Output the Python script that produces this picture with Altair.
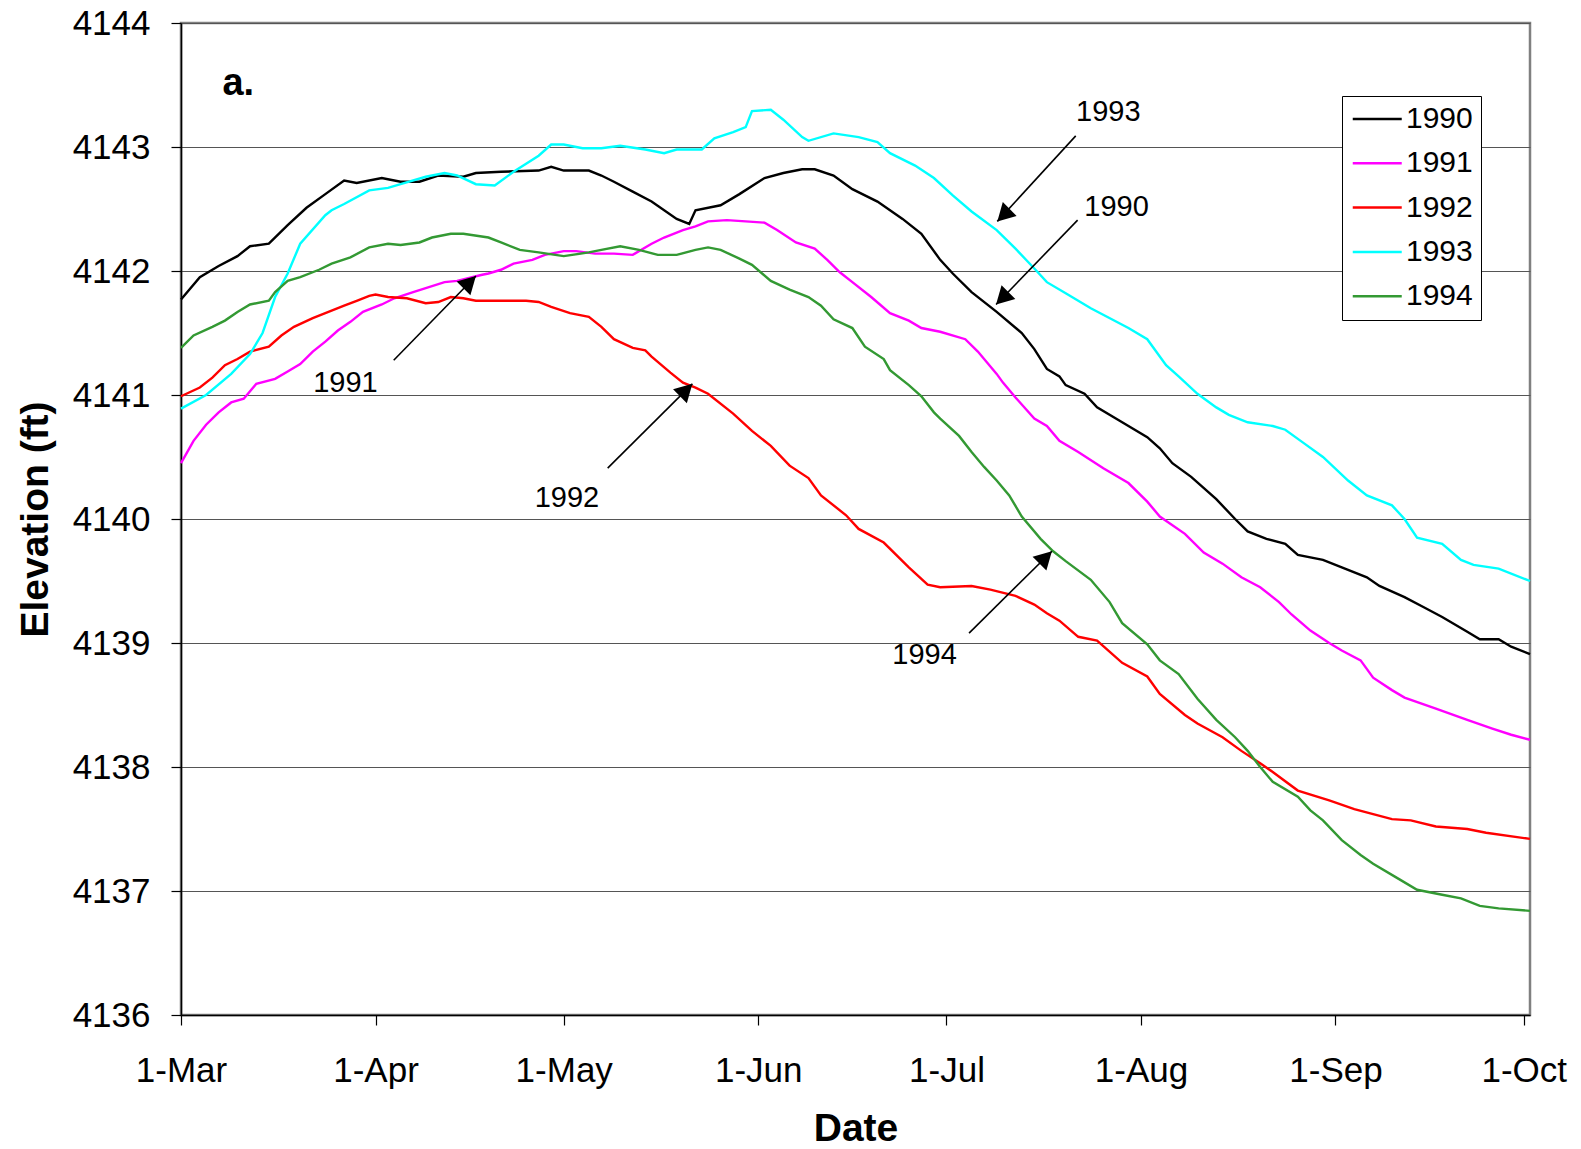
import datetime as dt
import pandas as pd
import altair as alt

# ---------------- data ----------------
years = ["1990", "1991", "1992", "1993", "1994"]
colors = ["#000000", "#FF00FF", "#FF0000", "#00FFFF", "#339933"]

# day offsets counted from 1-Mar
days_1990 = [0, 3, 6, 9, 11, 14, 17, 20, 23, 26, 28, 32, 35, 38, 41, 45, 47, 51, 57, 59,
             61, 65, 67, 69, 72, 75, 79, 81, 82, 86, 89, 93, 96, 99, 101, 104, 107, 111, 115, 118,
             121, 123, 126, 130, 134, 136, 138, 140, 141, 144, 146, 150, 154, 156, 158, 161, 165, 168, 170, 173,
             176, 178, 182, 185, 189, 191, 195, 198, 201, 205, 207, 210, 212, 215]
elev_1990 = [4141.77, 4141.95, 4142.04, 4142.12, 4142.20, 4142.22, 4142.37, 4142.51, 4142.62, 4142.73,
             4142.71, 4142.75, 4142.72, 4142.72, 4142.77, 4142.76, 4142.79, 4142.80, 4142.81, 4142.84,
             4142.81, 4142.81, 4142.77, 4142.72, 4142.64, 4142.56, 4142.42, 4142.38, 4142.49, 4142.53,
             4142.62, 4142.75, 4142.79, 4142.82, 4142.82, 4142.77, 4142.66, 4142.56, 4142.42, 4142.30,
             4142.09, 4141.98, 4141.83, 4141.67, 4141.50, 4141.37, 4141.21, 4141.15, 4141.08, 4141.01,
             4140.90, 4140.78, 4140.66, 4140.57, 4140.45, 4140.34, 4140.16, 4140.00, 4139.90, 4139.84,
             4139.80, 4139.71, 4139.67, 4139.61, 4139.53, 4139.46, 4139.37, 4139.29, 4139.21, 4139.09,
             4139.03, 4139.03, 4138.97, 4138.91]

days_1991 = [0, 2, 4, 6, 8, 10, 12, 15, 17, 19, 21, 23, 25, 27, 29, 32, 34, 37, 42, 44,
             48, 49, 51, 53, 56, 58, 61, 63, 66, 69, 72, 75, 77, 80, 82, 84, 87, 90, 93, 95,
             98, 101, 103, 105, 107, 110, 113, 116, 118, 121, 125, 127, 130, 131, 133, 136, 138, 140, 143, 147,
             151, 154, 156, 160, 163, 166, 169, 172, 175, 177, 180, 183, 185, 188, 190, 193, 195, 200, 205, 209,
             212, 215]
elev_1991 = [4140.45, 4140.63, 4140.76, 4140.86, 4140.94, 4140.97, 4141.09, 4141.13, 4141.19, 4141.25,
             4141.35, 4141.43, 4141.52, 4141.59, 4141.67, 4141.73, 4141.78, 4141.83, 4141.91, 4141.92,
             4141.97, 4141.98, 4142.01, 4142.06, 4142.09, 4142.13, 4142.16, 4142.16, 4142.14, 4142.14,
             4142.13, 4142.22, 4142.27, 4142.33, 4142.36, 4142.40, 4142.41, 4142.40, 4142.39, 4142.33,
             4142.23, 4142.18, 4142.09, 4141.99, 4141.91, 4141.79, 4141.66, 4141.60, 4141.54, 4141.51,
             4141.45, 4141.35, 4141.17, 4141.10, 4140.98, 4140.81, 4140.75, 4140.63, 4140.54, 4140.41,
             4140.29, 4140.14, 4140.02, 4139.88, 4139.73, 4139.64, 4139.53, 4139.45, 4139.33, 4139.23,
             4139.10, 4139.00, 4138.94, 4138.86, 4138.72, 4138.62, 4138.56, 4138.47, 4138.38, 4138.31,
             4138.26, 4138.22]

days_1992 = [0, 3, 5, 7, 9, 11, 14, 16, 18, 21, 23, 26, 28, 30, 31, 33, 36, 39, 41, 43,
             45, 47, 51, 55, 57, 59, 62, 65, 67, 69, 72, 74, 75, 78, 80, 82, 84, 88, 91, 94,
             97, 100, 102, 106, 108, 112, 116, 119, 121, 126, 129, 133, 136, 138, 140, 143, 146, 150, 154, 156,
             160, 162, 166, 169, 172, 174, 178, 183, 187, 190, 193, 196, 200, 205, 208, 215]
elev_1992 = [4140.99, 4141.06, 4141.14, 4141.24, 4141.29, 4141.35, 4141.39, 4141.48, 4141.55, 4141.62,
             4141.66, 4141.72, 4141.76, 4141.80, 4141.81, 4141.79, 4141.78, 4141.74, 4141.75, 4141.79,
             4141.78, 4141.76, 4141.76, 4141.76, 4141.75, 4141.71, 4141.66, 4141.63, 4141.55, 4141.45,
             4141.38, 4141.36, 4141.31, 4141.18, 4141.10, 4141.06, 4141.01, 4140.85, 4140.71, 4140.59,
             4140.43, 4140.33, 4140.19, 4140.03, 4139.92, 4139.81, 4139.61, 4139.47, 4139.45, 4139.46,
             4139.43, 4139.38, 4139.31, 4139.24, 4139.18, 4139.05, 4139.02, 4138.84, 4138.73, 4138.59,
             4138.42, 4138.35, 4138.24, 4138.13, 4138.03, 4137.96, 4137.81, 4137.73, 4137.66, 4137.62,
             4137.58, 4137.57, 4137.52, 4137.50, 4137.47, 4137.42]

days_1993 = [0, 4, 8, 11, 13, 15, 17, 19, 23, 24, 26, 30, 33, 35, 39, 42, 44, 47, 50, 53,
             57, 59, 61, 64, 67, 70, 74, 77, 79, 83, 85, 88, 90, 91, 94, 96, 99, 100, 104, 108,
             111, 113, 117, 120, 123, 126, 130, 133, 136, 138, 141, 145, 151, 154, 157, 159, 162, 165, 167, 170,
             174, 176, 179, 182, 186, 189, 193, 195, 197, 201, 204, 206, 210, 215]
elev_1993 = [4140.89, 4141.00, 4141.17, 4141.33, 4141.50, 4141.79, 4141.98, 4142.22, 4142.45, 4142.49,
             4142.54, 4142.65, 4142.67, 4142.70, 4142.76, 4142.79, 4142.77, 4142.70, 4142.69, 4142.80,
             4142.93, 4143.02, 4143.02, 4142.99, 4142.99, 4143.01, 4142.98, 4142.95, 4142.98, 4142.98,
             4143.07, 4143.12, 4143.16, 4143.29, 4143.30, 4143.22, 4143.08, 4143.05, 4143.11, 4143.08,
             4143.04, 4142.95, 4142.85, 4142.75, 4142.61, 4142.48, 4142.33, 4142.18, 4142.02, 4141.91,
             4141.82, 4141.70, 4141.54, 4141.45, 4141.24, 4141.15, 4141.01, 4140.90, 4140.84, 4140.78,
             4140.75, 4140.72, 4140.61, 4140.50, 4140.31, 4140.19, 4140.11, 4140.00, 4139.85, 4139.80,
             4139.67, 4139.63, 4139.60, 4139.50]

days_1994 = [0, 2, 5, 7, 9, 11, 14, 15, 17, 19, 22, 24, 27, 30, 33, 35, 38, 40, 43, 45,
             49, 51, 54, 57, 61, 65, 67, 70, 73, 76, 79, 82, 84, 86, 89, 91, 94, 97, 100, 102,
             104, 107, 109, 112, 113, 116, 118, 120, 121, 124, 126, 128, 130, 132, 134, 137, 139, 141, 145, 148,
             150, 154, 156, 159, 162, 165, 168, 170, 172, 174, 178, 180, 182, 185, 188, 190, 194, 197, 201, 204,
             207, 210, 215]
elev_1994 = [4141.38, 4141.48, 4141.55, 4141.60, 4141.67, 4141.73, 4141.76, 4141.83, 4141.92, 4141.95,
             4142.01, 4142.06, 4142.11, 4142.19, 4142.22, 4142.21, 4142.23, 4142.27, 4142.30, 4142.30,
             4142.27, 4142.23, 4142.17, 4142.15, 4142.12, 4142.15, 4142.17, 4142.20, 4142.17, 4142.13,
             4142.13, 4142.17, 4142.19, 4142.17, 4142.10, 4142.05, 4141.92, 4141.85, 4141.79, 4141.72,
             4141.61, 4141.54, 4141.39, 4141.29, 4141.20, 4141.08, 4140.99, 4140.86, 4140.81, 4140.67,
             4140.54, 4140.42, 4140.31, 4140.19, 4140.02, 4139.84, 4139.74, 4139.66, 4139.51, 4139.33,
             4139.16, 4138.99, 4138.86, 4138.75, 4138.55, 4138.38, 4138.24, 4138.13, 4138.00, 4137.88,
             4137.76, 4137.65, 4137.57, 4137.41, 4137.29, 4137.22, 4137.10, 4137.01, 4136.97, 4136.94,
             4136.88, 4136.86, 4136.84]

# annotation arrows (day offsets / elevations)
arrow_labels = ["1993", "1990", "1991", "1992", "1994"]
arrow_start_day = [142.6, 142.9, 33.9, 68.0, 125.6]
arrow_start_elev = [4143.09, 4142.41, 4141.28, 4140.41, 4139.08]
arrow_tip_day = [130.1, 129.9, 47.0, 81.5, 138.8]
arrow_tip_elev = [4142.40, 4141.73, 4141.96, 4141.09, 4139.74]
arrow_angle = [225, 225, 45, 45, 45]
label_day = [147.8, 149.1, 26.2, 61.5, 118.5]
label_elev = [4143.28, 4142.52, 4141.10, 4140.17, 4138.90]

panel_text = ["a."]
panel_day = [6.6]
panel_elev = [4143.42]

tick_months = [3, 4, 5, 6, 7, 8, 9, 10]
y_ticks = [4136, 4137, 4138, 4139, 4140, 4141, 4142, 4143, 4144]

# ---------------- tables ----------------
BASE = dt.datetime(2001, 3, 1)


def iso(day):
    return (BASE + dt.timedelta(days=day)).strftime("%Y-%m-%dT%H:%M:%SZ")


series = {
    "1990": (days_1990, elev_1990),
    "1991": (days_1991, elev_1991),
    "1992": (days_1992, elev_1992),
    "1993": (days_1993, elev_1993),
    "1994": (days_1994, elev_1994),
}
rows = []
for yr in years:
    ds, es = series[yr]
    for d, e in zip(ds, es):
        rows.append({"date": iso(d), "elev": e, "year": yr})
df = pd.DataFrame(rows)

arrows = pd.DataFrame({
    "label": arrow_labels,
    "x0": [iso(d) for d in arrow_start_day],
    "y0": arrow_start_elev,
    "x1": [iso(d) for d in arrow_tip_day],
    "y1": arrow_tip_elev,
    "angle": arrow_angle,
    "lx": [iso(d) for d in label_day],
    "ly": label_elev,
})
panel = pd.DataFrame({"text": panel_text, "x": [iso(d) for d in panel_day], "y": panel_elev})

FONT = "Liberation Sans"

x_scale = alt.Scale(type="utc", nice=False,
                    domain=[alt.DateTime(year=2001, month=3, date=1, utc=True),
                            alt.DateTime(year=2001, month=10, date=2, utc=True)])
x_axis = alt.Axis(values=[alt.DateTime(year=2001, month=m, date=1, utc=True) for m in tick_months],
                  labelExpr="utcFormat(datum.value, '%-d-%b')", grid=False, labelFlush=False,
                  labelFontSize=35, labelPadding=45, labelBaseline="middle",
                  tickSize=10, title="Date", titleFontSize=39, titleFontWeight="bold",
                  titleY=113, titleBaseline="middle")
y_scale = alt.Scale(domain=[4136, 4144], nice=False, zero=False)
y_axis = alt.Axis(values=y_ticks, format="d", grid=True, labelFontSize=35, labelPadding=21,
                  labelBaseline="middle", labelFlush=False, tickSize=10, title="Elevation (ft)",
                  titleFontSize=39, titleFontWeight="bold", titleAngle=270,
                  titleX=-146, titleY=496, titleBaseline="middle", titleAlign="center")

ARROW_HEAD = "M0,0L-1,1.8L1,1.8Z"
LEGEND_LINE = "M-1,0L3,0"

lines = alt.Chart(df).mark_line(strokeWidth=2.4).encode(
    x=alt.X("date:T", scale=x_scale, axis=x_axis),
    y=alt.Y("elev:Q", scale=y_scale, axis=y_axis),
    color=alt.Color("year:N", scale=alt.Scale(domain=years, range=colors),
                    legend=alt.Legend(title=None, orient="none", legendX=1161, legendY=73,
                                      direction="vertical", symbolType=LEGEND_LINE,
                                      symbolSize=600, symbolStrokeWidth=2.5,
                                      labelFontSize=30, labelFont=FONT, labelColor="black",
                                      labelOffset=26, rowPadding=14.3, padding=8,
                                      strokeColor="black", fillColor="white")),
)

shafts = alt.Chart(arrows).mark_rule(color="black", strokeWidth=1.6).encode(
    x=alt.X("x0:T", scale=x_scale, axis=x_axis),
    x2="x1:T",
    y=alt.Y("y0:Q", scale=y_scale, axis=y_axis),
    y2="y1:Q",
)

heads = alt.Chart(arrows).mark_point(shape=ARROW_HEAD, filled=True, color="black",
                                     size=380, opacity=1, strokeWidth=0).encode(
    x=alt.X("x1:T", scale=x_scale, axis=x_axis),
    y=alt.Y("y1:Q", scale=y_scale, axis=y_axis),
    angle=alt.Angle("angle:Q", scale=None),
)

labels = alt.Chart(arrows).mark_text(font=FONT, fontSize=29, color="black",
                                     align="center", baseline="middle").encode(
    x=alt.X("lx:T", scale=x_scale, axis=x_axis),
    y=alt.Y("ly:Q", scale=y_scale, axis=y_axis),
    text="label:N",
)

panel_label = alt.Chart(panel).mark_text(font=FONT, fontSize=38, fontWeight="bold", color="black",
                                         align="left", baseline="alphabetic").encode(
    x=alt.X("x:T", scale=x_scale, axis=x_axis),
    y=alt.Y("y:Q", scale=y_scale, axis=y_axis),
    text="text:N",
)

chart = alt.layer(lines, shafts, heads, labels, panel_label).properties(
    width=1349, height=992,
    padding={"left": 173, "top": 15, "right": 40, "bottom": 132},
    autosize=alt.AutoSizeParams(type="none"),
).configure(
    font=FONT,
).configure_view(
    stroke="#808080", strokeWidth=2.5,
).configure_axis(
    labelFont=FONT, titleFont=FONT, labelColor="black", titleColor="black",
    domainColor="black", domainWidth=1.5, tickColor="black", tickWidth=1.2,
    gridColor="#555555", gridWidth=1.2,
)

chart.save("out.html", embed_options={"renderer": "svg", "actions": False})
